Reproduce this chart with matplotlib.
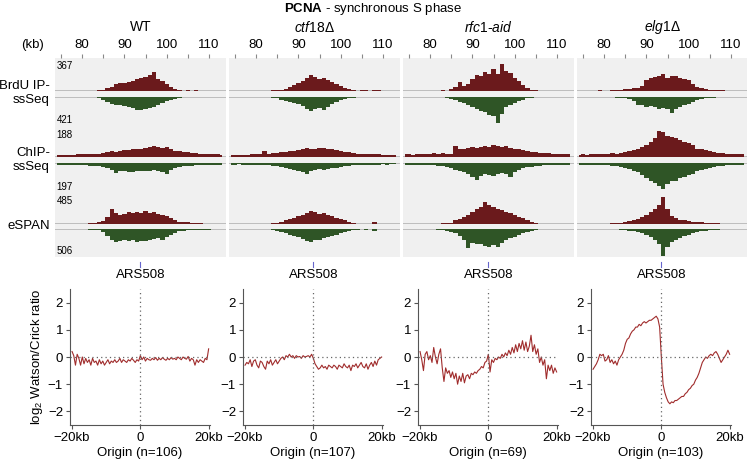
import numpy as np
import matplotlib
matplotlib.use("Agg")
import matplotlib.pyplot as plt
import matplotlib.transforms as mtransforms

plt.rcParams['font.family'] = ['Liberation Sans', 'DejaVu Sans']
plt.rcParams['mathtext.fontset'] = 'custom'
plt.rcParams['mathtext.rm'] = 'Liberation Sans'
plt.rcParams['mathtext.it'] = 'Liberation Sans:italic'
plt.rcParams['mathtext.bf'] = 'Liberation Sans:bold'

# genome position of the track bins (kb)
kb = list(range(74, 114))

strains = ["WT", "$\\it{ctf18}$\u0394", "$\\it{rfc1}$-$\\it{aid}$", "$\\it{elg1}$\u0394"]
assays = ["BrdU IP-\nssSeq", "ChIP-\nssSeq", "eSPAN"]
# data range labels (Watson max, Crick max) per assay
ranges_w = [367, 188, 485]
ranges_c = [421, 197, 506]

# Watson (red, up) / Crick (green, down) coverage, 1 kb bins
wt_brdu_w = [0,0,0,0,0,0,0,0,0,4, 6,12,30,45,80,90,95,100,115,135, 150,165,180,215,140,110,75,45,25,12, 5,8,3,6,4,3,0,0,0,0]
wt_brdu_c = [0,0,0,0,0,0,0,0,0,5, 20,45,75,95,110,120,130,150,165,185, 195,175,160,140,110,90,65,45,25,10, 5,3,0,0,3,0,0,0,0,0]
wt_chip_w = [14,13,15,16,14,18,17,20,18,22, 20,25,30,38,33,40,45,48,50,52, 55,58,62,70,65,60,68,55,40,38, 32,30,28,25,22,20,22,18,17,16]
wt_chip_c = [12,12,13,12,15,14,16,15,18,20, 22,28,35,45,65,55,55,58,60,55, 52,55,50,48,52,60,70,45,35,28, 22,20,18,16,15,14,14,13,12,12]
wt_espan_w = [0,0,0,0,0,0,0,0,10,15, 25,50,110,250,180,150,160,190,175,200, 180,210,170,190,160,150,130,95,60,40, 30,25,15,20,12,8,5,0,0,0]
wt_espan_c = [0,0,0,0,0,0,5,8,10,15, 25,50,130,200,240,210,190,220,200,230, 210,220,200,180,170,190,150,110,70,45, 30,20,15,12,12,10,10,8,8,6]

ctf18_brdu_w = [0,0,0,0,0,0,0,0,0,4, 6,10,15,25,45,70,95,120,150,180, 160,135,145,130,100,75,55,30,18,8, 5,8,6,4,8,6,3,0,0,0]
ctf18_brdu_c = [0,0,0,0,0,0,0,0,0,0, 8,20,45,60,70,85,100,130,170,200, 175,165,190,140,95,70,50,30,20,10, 6,4,3,5,0,0,0,0,0,0]
ctf18_chip_w = [15,14,13,15,16,17,18,20,40,22, 24,28,30,32,38,42,48,55,58,55, 52,58,60,55,50,48,42,35,30,25, 22,20,20,18,20,17,15,14,16,15]
ctf18_chip_c = [10,10,9,12,10,11,12,12,14,15, 18,22,28,35,38,45,50,58,70,55, 45,42,45,38,35,30,28,22,18,15, 14,12,11,10,10,10,9,10,9,9]
ctf18_espan_w = [0,0,0,0,0,5,0,0,0,0, 10,20,40,60,80,100,130,150,180,215, 190,160,175,150,130,100,80,60,35,15, 8,5,8,5,40,8,0,0,0,0]
ctf18_espan_c = [0,0,0,0,0,0,0,0,5,8, 15,30,55,80,100,120,150,180,210,235, 200,190,170,150,120,100,70,50,30,15, 10,8,10,6,35,5,0,0,0,0]

rfc1_brdu_w = [0,0,0,0,0,0,0,0,0,8, 5,20,50,100,60,80,140,180,170,220, 190,250,200,305,230,210,150,110,70,35, 15,10,5,4,3,0,0,0,0,0]
rfc1_brdu_c = [0,0,0,0,0,0,0,0,0,5, 10,25,50,70,90,110,140,180,200,220, 260,280,380,250,150,110,85,60,40,20, 10,5,0,0,0,0,0,0,0,0]
rfc1_chip_w = [18,17,16,18,20,22,18,28,22,25, 20,18,70,50,55,58,62,60,68,72, 65,75,70,68,72,60,55,50,45,40, 32,30,28,25,24,22,20,22,19,22]
rfc1_chip_c = [12,14,12,13,14,15,14,16,18,20, 25,35,45,55,60,75,90,110,85,70, 80,85,70,65,75,95,60,45,35,28, 25,22,18,16,15,14,13,12,12,12]
rfc1_espan_w = [0,0,0,0,0,0,0,0,0,10, 15,20,60,80,110,150,200,240,280,360, 300,270,250,230,200,170,150,120,90,60, 30,15,8,5,5,4,0,0,0,0]
rfc1_espan_c = [0,0,0,0,0,0,0,0,10,20, 30,50,80,120,200,340,250,270,280,300, 330,290,320,250,200,170,140,110,80,50, 30,15,8,5,0,0,0,0,0,0]

elg1_brdu_w = [0,0,0,0,0,6,3,4,8,10, 12,20,25,35,40,55,130,150,160,175, 190,150,170,175,150,140,130,80,50,30, 20,12,10,8,6,4,3,0,0,0]
elg1_brdu_c = [5,3,0,5,0,0,4,0,0,8, 15,20,30,60,110,120,140,130,150,170, 160,180,230,180,140,110,95,70,50,30, 20,12,8,5,5,0,4,0,4,0]
elg1_chip_w = [15,17,16,18,20,18,22,20,24,22, 26,30,40,48,55,65,80,100,125,170, 160,135,130,125,110,95,90,75,55,50, 45,40,35,28,25,22,20,22,20,20]
elg1_chip_c = [12,12,14,13,14,15,16,16,18,20, 24,30,40,50,60,80,100,120,130,150, 170,140,120,115,100,90,80,70,55,45, 38,30,25,20,18,16,15,14,14,13]
elg1_espan_w = [0,0,0,0,0,5,0,0,10,15, 20,30,50,60,80,110,150,190,240,300, 430,250,130,90,70,60,50,40,30,25, 18,15,12,10,8,6,5,0,0,0]
elg1_espan_c = [0,0,0,0,0,0,0,0,5,8, 15,20,30,45,60,80,110,140,190,280, 490,330,240,200,160,130,100,80,60,40, 30,20,12,10,8,6,5,0,0,0]

# log2 Watson/Crick ratio around origins, -20..20 kb every 0.5 kb
dist = np.arange(-20, 20.5, 0.5)
wt_ratio = [0.2,0.05,-0.3,0.1,-0.05,-0.3,0.0,-0.25,-0.05,-0.2,
            -0.1,-0.3,-0.05,-0.2,-0.15,-0.3,-0.1,-0.25,-0.15,-0.3,
            -0.2,-0.1,-0.25,-0.15,-0.2,-0.1,-0.2,-0.15,-0.05,-0.2,
            -0.1,-0.15,-0.2,-0.1,-0.15,-0.05,-0.12,-0.2,-0.1,-0.15,
            0.05,-0.1,0.0,-0.15,-0.05,-0.1,-0.12,-0.05,-0.1,-0.02,
            -0.12,-0.05,-0.1,-0.02,-0.08,-0.12,-0.05,-0.1,-0.02,-0.08,
            -0.05,-0.1,0.0,-0.05,-0.1,0.0,-0.05,-0.08,0.02,-0.15,
            -0.05,-0.1,-0.3,-0.1,-0.2,-0.1,-0.15,-0.2,-0.05,-0.1,
            0.3]
ctf18_ratio = [-0.3,-0.2,-0.25,-0.1,-0.35,-0.15,-0.1,-0.3,-0.4,-0.15,
               -0.2,-0.35,-0.45,-0.15,-0.25,-0.1,-0.3,-0.2,-0.1,-0.25,
               -0.15,-0.05,0.0,-0.1,0.05,0.0,0.1,0.0,0.05,-0.05,
               0.05,0.0,0.02,-0.05,0.05,0.0,0.02,0.05,0.0,0.1,
               -0.05,-0.25,-0.35,-0.45,-0.4,-0.3,-0.4,-0.35,-0.45,-0.3,
               -0.35,-0.4,-0.3,-0.35,-0.45,-0.3,-0.35,-0.4,-0.25,-0.35,
               -0.4,-0.3,-0.5,-0.3,-0.35,-0.25,-0.4,-0.3,-0.2,-0.35,
               -0.4,-0.25,-0.45,-0.3,-0.2,-0.35,-0.15,-0.3,-0.1,-0.05,
               0.0]
rfc1_ratio = [0.2,-0.1,-0.5,0.1,0.2,-0.1,0.05,-0.2,0.35,0.0,
              -0.25,0.1,0.3,-0.4,-0.9,-0.4,-0.6,-0.5,-0.75,-0.55,
              -0.8,-0.6,-1.0,-0.7,-0.9,-0.6,-0.95,-0.7,-0.65,-0.8,
              -0.6,-0.65,-0.55,-0.6,-0.5,-0.45,-0.35,-0.4,-0.2,-0.15,
              0.1,-0.55,-0.1,-0.2,-0.05,-0.1,0.0,-0.05,0.1,0.0,
              0.15,0.05,0.25,0.1,0.35,0.15,0.45,0.2,0.5,0.3,
              0.6,0.25,0.55,0.2,0.4,0.8,0.2,0.45,0.1,0.3,
              -0.2,0.0,-0.3,-0.1,-0.8,-0.3,-0.5,-0.3,-0.6,-0.4,
              -0.55]
elg1_ratio = [-0.45,-0.35,-0.25,-0.1,0.1,0.05,0.1,-0.15,-0.1,0.05,
              -0.2,-0.1,-0.25,-0.15,-0.3,-0.1,0.0,0.1,0.25,0.5,
              0.65,0.7,0.85,0.95,1.0,1.1,1.1,1.2,1.15,1.25,
              1.3,1.25,1.3,1.35,1.35,1.4,1.45,1.5,1.4,1.1,
              0.0,-1.0,-1.3,-1.5,-1.65,-1.72,-1.65,-1.68,-1.6,-1.6,
              -1.55,-1.5,-1.45,-1.45,-1.35,-1.3,-1.2,-1.15,-1.05,-1.0,
              -0.85,-0.75,-0.6,-0.4,-0.2,-0.1,0.0,-0.05,0.05,0.1,
              0.05,0.15,0.2,0.1,-0.05,-0.2,-0.1,0.0,0.1,0.25,
              0.1]
n_origins = [106, 107, 69, 103]

tracks = [
    [(wt_brdu_w, wt_brdu_c), (wt_chip_w, wt_chip_c), (wt_espan_w, wt_espan_c)],
    [(ctf18_brdu_w, ctf18_brdu_c), (ctf18_chip_w, ctf18_chip_c), (ctf18_espan_w, ctf18_espan_c)],
    [(rfc1_brdu_w, rfc1_brdu_c), (rfc1_chip_w, rfc1_chip_c), (rfc1_espan_w, rfc1_espan_c)],
    [(elg1_brdu_w, elg1_brdu_c), (elg1_chip_w, elg1_chip_c), (elg1_espan_w, elg1_espan_c)],
]
ratios = [wt_ratio, ctf18_ratio, rfc1_ratio, elg1_ratio]

RED = '#6b1a1c'
GREEN = '#2f5526'
BG = '#f0f0f0'
LINE = '#a02c2c'

W, H = 747, 462
fig = plt.figure(figsize=(W / 100, H / 100), dpi=100)


def rect(left, top, width, height):
    return [left / W, 1 - (top + height) / H, width / W, height / H]


# (top, height) of red and green strip for each assay, in pixels
rows = [((59, 32), (97, 29)), ((128, 29), (163, 30)), ((194, 30), (229, 28))]
col_left = [55, 229, 403, 577]
col_w = 171
XL = (73.6, 114)

fig.text(373 / W, 1 - 9 / H, r'$\mathbf{PCNA}$ - synchronous S phase', ha='center', va='center', fontsize=9.5)
fig.text(33 / W, 1 - 45 / H, '(kb)', ha='center', va='center', fontsize=9.5)
row_y = [93, 160, 226]
for lab, yy in zip(assays, row_y):
    fig.text(50 / W, 1 - yy / H, lab, ha='right', va='center', fontsize=9.5, linespacing=1.3)

for ci, left in enumerate(col_left):
    bg = fig.add_axes(rect(left, 58, col_w, 199))
    bg.set_facecolor(BG)
    bg.set_xlim(XL)
    bg.set_yticks([])
    for s in bg.spines.values():
        s.set_visible(False)
    bg.xaxis.tick_top()
    ticks = list(range(75, 111, 5))
    bg.set_xticks(ticks)
    bg.set_xticklabels([str(t) if t % 10 == 0 else '' for t in ticks])
    bg.tick_params(axis='x', length=3, color='#888888', labelsize=9.5, pad=2)
    fig.text((left + col_w / 2) / W, 1 - 27 / H, strains[ci], ha='center', va='center', fontsize=10)

    for ri, ((rt, rh), (gt, gh)) in enumerate(rows):
        w_vals, c_vals = tracks[ci][ri]
        axr = fig.add_axes(rect(left, rt, col_w, rh))
        axr.fill_between(kb, w_vals, step='mid', color=RED, lw=0)
        axr.set_ylim(0, ranges_w[ri])
        axg = fig.add_axes(rect(left, gt, col_w, gh))
        axg.fill_between(kb, c_vals, step='mid', color=GREEN, lw=0)
        axg.set_ylim(ranges_c[ri], 0)
        for a in (axr, axg):
            a.set_xlim(XL)
            a.axhline(0, color='#bdbdbd', lw=1.4, zorder=0)
            a.patch.set_alpha(0)
            a.set_xticks([])
            a.set_yticks([])
            for s in a.spines.values():
                s.set_visible(False)
        if ci == 0:
            axr.text(0.01, 0.93, str(ranges_w[ri]), transform=axr.transAxes, fontsize=7, va='top', ha='left')
            axg.text(0.01, 0.04, str(ranges_c[ri]), transform=axg.transAxes, fontsize=7, va='bottom', ha='left')

# origin-centred ratio plots
line_left = [70, 243, 418, 591]
for ci, left in enumerate(line_left):
    ax = fig.add_axes(rect(left, 289, 140, 136))
    ax.plot(dist, ratios[ci], color=LINE, lw=0.8)
    ax.axvline(0, color='#666666', ls=(0, (1, 2.5)), lw=0.9)
    ax.axhline(0, color='#666666', ls=(0, (1, 2.5)), lw=0.9)
    ax.set_xlim(-20.6, 20.4)
    ax.set_ylim(-2.5, 2.5)
    ax.set_yticks([-2, -1, 0, 1, 2])
    ax.set_yticklabels(['\u22122', '\u22121', '0', '1', '2'])
    ax.set_xticks([-20, 0, 20])
    ax.set_xticklabels(['\u221220kb', '0', '20kb'])
    ax.tick_params(labelsize=9.5, length=3, color='#555555', pad=2)
    for side in ('top', 'right'):
        ax.spines[side].set_visible(False)
    for side in ('left', 'bottom'):
        ax.spines[side].set_color('#555555')
    ax.set_xlabel('Origin (n=%d)' % n_origins[ci], fontsize=9.5, labelpad=2)
    if ci == 0:
        ax.set_ylabel('log$_2$ Watson/Crick ratio', fontsize=9.5, labelpad=2)
    tr = mtransforms.blended_transform_factory(ax.transData, ax.transAxes)
    ax.plot([0, 0], [1.16, 1.2], color='#6666cc', lw=0.8, transform=tr, clip_on=False)
    ax.text(0, 1.1, 'ARS508', transform=tr, ha='center', va='center', fontsize=9.5)

fig.savefig('out.png', dpi=100)
